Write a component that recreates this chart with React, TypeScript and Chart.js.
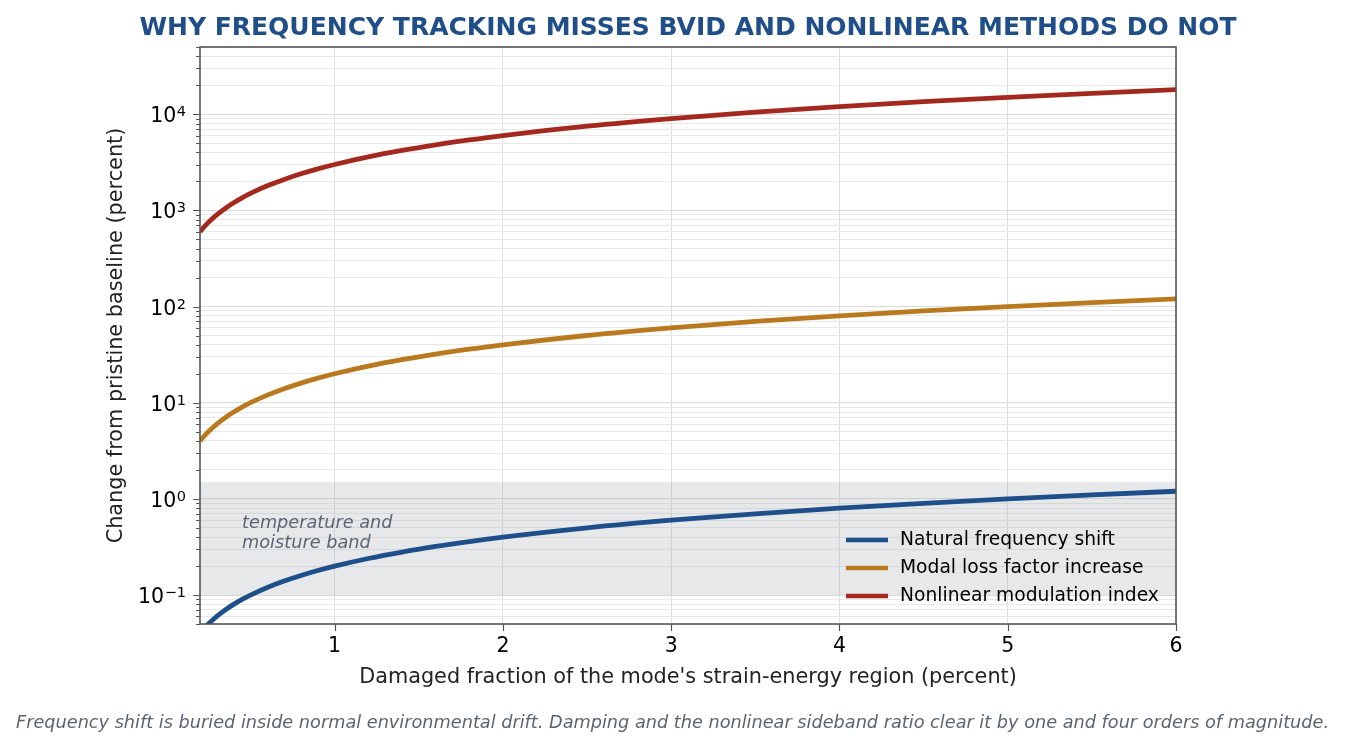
import React, { useEffect, useRef } from 'react';
import { Chart, registerables } from 'chart.js';

Chart.register(...registerables);

const FONT = '"DejaVu Sans", sans-serif';

const TITLE = 'WHY FREQUENCY TRACKING MISSES BVID AND NONLINEAR METHODS DO NOT';
const FOOTNOTE =
  'Frequency shift is buried inside normal environmental drift. Damping and the nonlinear sideband ratio clear it by one and four orders of magnitude.';
const X_TITLE = "Damaged fraction of the mode's strain-energy region (percent)";
const Y_TITLE = 'Change from pristine baseline (percent)';

const DAMAGE_FRACTION = [0.2, 0.22, 0.25, 0.28, 0.32, 0.36, 0.4, 0.45, 0.5, 0.6, 0.7, 0.8, 0.9, 1.0, 1.2, 1.4, 1.6, 1.8, 2.0, 2.5, 3.0, 3.5, 4.0, 4.5, 5.0, 5.5, 6.0];
const FREQ_SHIFT = [0.04, 0.044, 0.05, 0.056, 0.064, 0.072, 0.08, 0.09, 0.1, 0.12, 0.14, 0.16, 0.18, 0.2, 0.24, 0.28, 0.32, 0.36, 0.4, 0.5, 0.6, 0.7, 0.8, 0.9, 1.0, 1.1, 1.2];
const LOSS_FACTOR = [4, 4.4, 5, 5.6, 6.4, 7.2, 8, 9, 10, 12, 14, 16, 18, 20, 24, 28, 32, 36, 40, 50, 60, 70, 80, 90, 100, 110, 120];
const NONLINEAR_INDEX = [600, 660, 750, 840, 960, 1080, 1200, 1350, 1500, 1800, 2100, 2400, 2700, 3000, 3600, 4200, 4800, 5400, 6000, 7500, 9000, 10500, 12000, 13500, 15000, 16500, 18000];

const SERIES_LABELS = ['Natural frequency shift', 'Modal loss factor increase', 'Nonlinear modulation index'];
const SERIES_COLORS = ['#1d4f8a', '#b97a1f', '#a3291f'];

const X_TICKS = [1, 2, 3, 4, 5, 6];
const Y_DECADES = [0.1, 1, 10, 100, 1000, 10000];
const Y_DECADE_BASE = '10';
const Y_DECADE_EXPONENTS = ['−1', '0', '1', '2', '3', '4'];

const BAND_RANGE = [0.1, 1.5];
const BAND_LABEL = ['temperature and', 'moisture band'];

const X_MIN = 0.2;
const X_MAX = 6;
const Y_MIN = 0.05;
const Y_MAX = 50000;

function isDecade(v: number) {
  const l = Math.log10(v);
  return Math.abs(l - Math.round(l)) < 1e-9;
}

function buildLogTicks() {
  const decades = [Y_DECADES[0] / 10, ...Y_DECADES];
  const out: number[] = [];
  for (const d of decades) {
    for (let m = 1; m <= 9; m++) {
      const v = parseFloat((m * d).toPrecision(6));
      if (v >= Y_MIN * 0.9999 && v <= Y_MAX * 1.0001) out.push(v);
    }
  }
  return out;
}

const decorPlugin = {
  id: 'decor',
  beforeDatasetsDraw(chart: any) {
    const { ctx, chartArea, scales } = chart;
    const y = scales.y;
    const top = y.getPixelForValue(BAND_RANGE[1]);
    const bottom = y.getPixelForValue(BAND_RANGE[0]);
    ctx.save();
    ctx.fillStyle = 'rgba(160,165,172,0.25)';
    ctx.fillRect(chartArea.left, top, chartArea.right - chartArea.left, bottom - top);
    ctx.font = `italic 17.7px ${FONT}`;
    ctx.fillStyle = '#5b6472';
    ctx.textAlign = 'left';
    ctx.textBaseline = 'middle';
    const tx = scales.x.getPixelForValue(0.45);
    const ty = y.getPixelForValue(0.56);
    BAND_LABEL.forEach((t, i) => ctx.fillText(t, tx, ty + i * 20.5));
    ctx.restore();
  },
  afterDraw(chart: any) {
    const { ctx, chartArea, scales } = chart;
    const { left, right, top, bottom } = chartArea;
    ctx.save();
    // tick marks
    ctx.strokeStyle = '#555555';
    ctx.lineWidth = 1.2;
    ctx.beginPath();
    for (const v of X_TICKS) {
      const px = Math.round(scales.x.getPixelForValue(v)) + 0.5;
      ctx.moveTo(px, bottom);
      ctx.lineTo(px, bottom + 7);
    }
    for (const t of scales.y.ticks) {
      const py = Math.round(scales.y.getPixelForValue(t.value)) + 0.5;
      const len = isDecade(t.value) ? 7 : 4;
      ctx.moveTo(left, py);
      ctx.lineTo(left - len, py);
    }
    ctx.stroke();
    // y decade labels with superscript exponents
    ctx.fillStyle = '#000000';
    ctx.textAlign = 'left';
    ctx.textBaseline = 'alphabetic';
    const labelRight = left - 14;
    Y_DECADES.forEach((d, i) => {
      const py = scales.y.getPixelForValue(d);
      ctx.font = `14.5px ${FONT}`;
      const ew = ctx.measureText(Y_DECADE_EXPONENTS[i]).width;
      ctx.font = `20.5px ${FONT}`;
      const bw = ctx.measureText(Y_DECADE_BASE).width;
      ctx.fillText(Y_DECADE_BASE, labelRight - ew - bw - 0.5, py + 8);
      ctx.font = `14.5px ${FONT}`;
      ctx.fillText(Y_DECADE_EXPONENTS[i], labelRight - ew, py + 2);
    });
    // frame
    ctx.lineWidth = 1.6;
    ctx.strokeStyle = '#555555';
    ctx.strokeRect(left, top, right - left, bottom - top);
    // legend
    const ds = chart.data.datasets;
    ctx.font = `18.7px ${FONT}`;
    ctx.textBaseline = 'middle';
    ctx.textAlign = 'left';
    ds.forEach((d: any, i: number) => {
      const ly = 540 + i * 28;
      ctx.strokeStyle = d.borderColor;
      ctx.lineWidth = 4.6;
      ctx.beginPath();
      ctx.moveTo(846, ly);
      ctx.lineTo(888, ly);
      ctx.stroke();
      ctx.fillStyle = '#000000';
      ctx.fillText(d.label, 900, ly);
    });
    // title
    ctx.font = `bold 25px ${FONT}`;
    ctx.fillStyle = '#1f4e89';
    ctx.textAlign = 'center';
    ctx.fillText(TITLE, (left + right) / 2, 28);
    // footnote
    ctx.font = `italic 17.7px ${FONT}`;
    ctx.fillStyle = '#5b6472';
    ctx.fillText(FOOTNOTE, chart.width / 2, 723);
    ctx.restore();
  },
};

export default function App() {
  const ref = useRef<HTMLCanvasElement | null>(null);
  useEffect(() => {
    document.body.style.margin = '0';
    const canvas = ref.current;
    if (!canvas) return;
    const datasets = [FREQ_SHIFT, LOSS_FACTOR, NONLINEAR_INDEX].map((vals, i) => ({
      label: SERIES_LABELS[i],
      data: DAMAGE_FRACTION.map((x, j) => ({ x, y: vals[j] })),
      borderColor: SERIES_COLORS[i],
      backgroundColor: SERIES_COLORS[i],
      borderWidth: 4.8,
      pointRadius: 0,
      cubicInterpolationMode: 'monotone' as const,
      fill: false,
    }));
    const chart = new Chart(canvas, {
      type: 'line',
      data: { datasets },
      plugins: [decorPlugin],
      options: {
        responsive: false,
        animation: false,
        devicePixelRatio: 1,
        layout: { padding: { left: 0, right: 169, top: 47, bottom: 0 } },
        plugins: {
          legend: { display: false },
          title: { display: false },
          tooltip: { enabled: false },
        },
        scales: {
          x: {
            type: 'linear',
            min: X_MIN,
            max: X_MAX,
            afterBuildTicks: (s: any) => {
              s.ticks = X_TICKS.map((v) => ({ value: v }));
            },
            afterFit: (s: any) => {
              s.height = 124;
            },
            grid: { color: '#dedede', lineWidth: 1, drawTicks: true, tickLength: 7, tickColor: 'rgba(0,0,0,0)' },
            border: { display: false },
            ticks: {
              font: { size: 20.5, family: FONT },
              color: '#000000',
              padding: 3,
              maxRotation: 0,
              autoSkip: false,
              callback: (v: any) => String(v),
            },
            title: {
              display: true,
              text: X_TITLE,
              font: { size: 20.8, family: FONT },
              color: '#222222',
              padding: { top: 0, bottom: 57.5 },
            },
          },
          y: {
            type: 'logarithmic',
            min: Y_MIN,
            max: Y_MAX,
            afterBuildTicks: (s: any) => {
              s.ticks = buildLogTicks().map((v) => ({ value: v, major: isDecade(v) }));
            },
            afterFit: (s: any) => {
              s.width = 200;
            },
            grid: {
              color: (c: any) => (c.tick && isDecade(c.tick.value) ? '#dadada' : '#e8e8e8'),
              lineWidth: 1,
              drawTicks: true,
              tickLength: 7,
              tickColor: 'rgba(0,0,0,0)',
            },
            border: { display: false },
            ticks: {
              display: false,
              autoSkip: false,
            },
            title: {
              display: true,
              text: Y_TITLE,
              font: { size: 20.8, family: FONT },
              color: '#222222',
              padding: { top: 104.5, bottom: 0 },
            },
          },
        },
      } as any,
    });
    return () => chart.destroy();
  }, []);
  return (
    <div style={{ position: 'absolute', left: 0, top: 0, width: 1345, height: 748, background: '#ffffff' }}>
      <canvas ref={ref} width={1345} height={748} style={{ width: 1345, height: 748, display: 'block' }} />
    </div>
  );
}
